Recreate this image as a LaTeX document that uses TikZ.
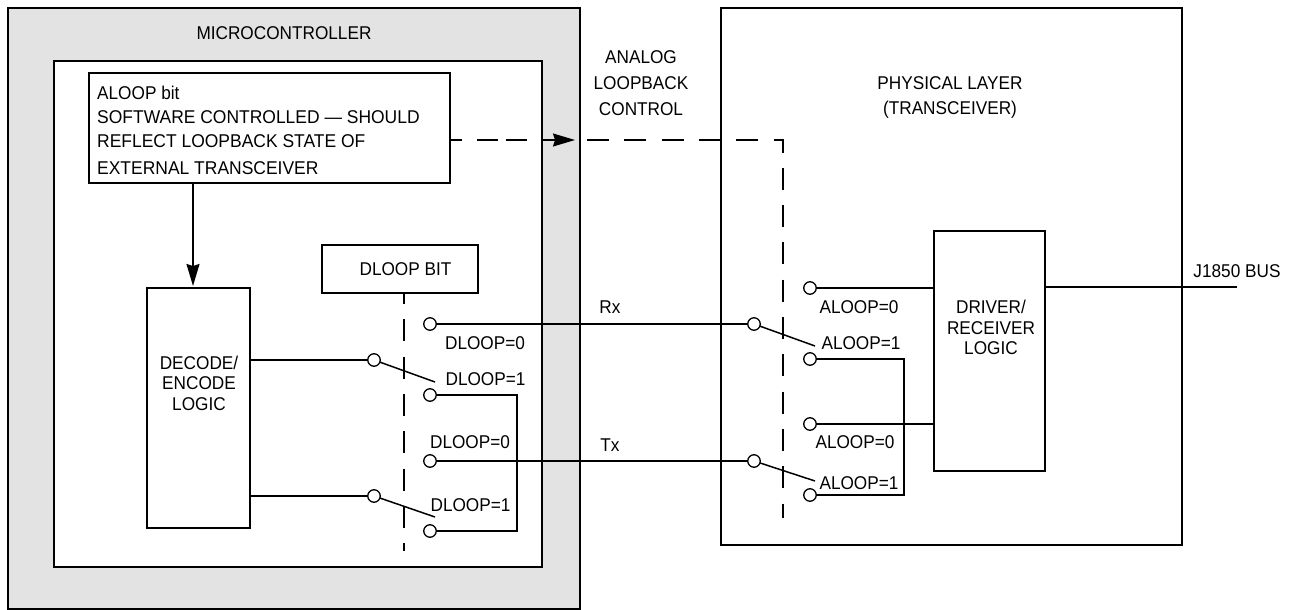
\documentclass[tikz,border=0pt]{standalone}
\usepackage{fontspec}
\setmainfont[FakeStretch=0.93]{Liberation Sans}
\usetikzlibrary{arrows.meta,calc}
\tikzset{
  x=1pt,y=-1pt,
  box/.style={draw=black,line width=1.6pt,fill=white,inner sep=0pt,outer sep=0pt,anchor=north west},
  term/.style={circle,draw=black,line width=1.3pt,fill=white,minimum size=12.5pt,inner sep=0pt,outer sep=0pt},
  wire/.style={line width=1.5pt,line join=miter},
  ctl/.style={line width=1.5pt,dash pattern=on 22pt off 15.3pt},
  lbl/.style={font=\fontsize{18.5}{25.7}\selectfont,inner sep=0pt,align=center},
  lblwide/.style={lbl,anchor=west,xscale=1.015},
  lbltight/.style={font=\fontsize{18.5}{20.6}\selectfont,inner sep=0pt,align=center},
  tiph/.style={-{Stealth[length=22pt,width=13pt,inset=2pt]}}
}
\begin{document}
\begin{tikzpicture}
\useasboundingbox (0,0) rectangle (1291,610);
\node[box,fill=black!11,minimum width=572pt,minimum height=601pt] (mcu) at (8,8) {};
\node[box,minimum width=488pt,minimum height=506pt] (inner) at (54,61) {};
\node[box,minimum width=461pt,minimum height=537pt] (phy) at (721,8) {};
\node[box,minimum width=361pt,minimum height=110pt] (aloop) at (89,73) {};
\node[box,minimum width=103pt,minimum height=240pt] (dec) at (147,288) {};
\node[box,minimum width=156pt,minimum height=48pt] (dloop) at (322,245) {};
\node[box,minimum width=111pt,minimum height=240pt] (drv) at (934,231) {};

\node[lbl] (t1) at (284,33.5) {MICROCONTROLLER};
\node[lbl] (t2) at (641,83) {ANALOG\\LOOPBACK\\CONTROL};
\node[lbl] (t3) at (950,97.5) {PHYSICAL LAYER\\(TRANSCEIVER)};
\node[lbl,anchor=west] (a1) at (97,93) {ALOOP bit};
\node[lblwide] (a2) at (97,117) {SOFTWARE CONTROLLED — SHOULD};
\node[lblwide] (a3) at (97,141) {REFLECT LOOPBACK STATE OF};
\node[lblwide] (a4) at (97,168) {EXTERNAL TRANSCEIVER};
\node[lbl] (t4) at (405.5,269) {DLOOP BIT};
\node[lbltight] (t5) at (199,383) {DECODE/\\ENCODE\\LOGIC};
\node[lbltight] (t6) at (991,327.5) {DRIVER/\\RECEIVER\\LOGIC};
\node[lbl] (t7) at (1237,271) {J1850 BUS};
\node[lbl] (rx) at (610,307) {Rx};
\node[lbl] (tx) at (610,445) {Tx};

% dashed controls
\coordinate (cs) at (587,140);
\coordinate (cc) at (783,140);
\coordinate (ce) at (783,518);
\coordinate (de) at (404,551);
\coordinate (at) at (575,140);
\coordinate (dt) at (193,286);
\draw[line width=1.5pt,tiph,dash pattern=on 12pt off 15pt on 21pt off 8pt on 21pt off 14pt on 60pt] (aloop.east |- at) -- (at);
\draw[ctl] (cs) -- (cc) -- (ce);
\draw[ctl,dash phase=11pt] (dloop.south -| de) -- (de);
\draw[wire,tiph] (aloop.south -| dt) -- (dt);

% terminals
\node[term] (p1) at (374,360) {};
\node[term] (p2) at (374,496) {};
\node[term] (c1) at (430,324) {};
\node[term] (c2) at (430,395) {};
\node[term] (c3) at (430,461) {};
\node[term] (c4) at (430,531) {};
\node[term] (q1) at (754,324) {};
\node[term] (q2) at (754,461) {};
\node[term] (d1) at (810,288) {};
\node[term] (d2) at (810,359) {};
\node[term] (d3) at (810,424) {};
\node[term] (d4) at (810,495) {};
\coordinate (b1) at (435,382);
\coordinate (b2) at (435,517);
\coordinate (b3) at (815,346);
\coordinate (b4) at (815,481);
\coordinate (j) at (1237,287);

\draw[wire] (dec.east |- p1) -- (p1);
\draw[wire] (dec.east |- p2) -- (p2);
\draw[wire] (p1) -- (b1);
\draw[wire] (p2) -- (b2);
\draw[wire] (c1) -- (q1);
\draw[wire] (c3) -- (q2);
\draw[wire] (q1) -- (b3);
\draw[wire] (q2) -- (b4);
\draw[wire] (c2) -- (517,395) -- (517,531) -- (c4);
\draw[wire] (d2) -- (904,359) -- (904,495) -- (d4);
\draw[wire] (d1) -- (drv.west |- d1);
\draw[wire] (d3) -- (drv.west |- d3);
\draw[wire] (drv.east |- j) -- (j);

\node[lbl] (l1) at (485,343) {DLOOP=0};
\node[lbl] (l2) at (485.5,379) {DLOOP=1};
\node[lbl] (l3) at (470,442) {DLOOP=0};
\node[lbl] (l4) at (470.5,505) {DLOOP=1};
\node[lbl] (l5) at (859,307) {ALOOP=0};
\node[lbl] (l6) at (861,343) {ALOOP=1};
\node[lbl] (l7) at (855,442) {ALOOP=0};
\node[lbl] (l8) at (859,483) {ALOOP=1};
\end{tikzpicture}
\end{document}
